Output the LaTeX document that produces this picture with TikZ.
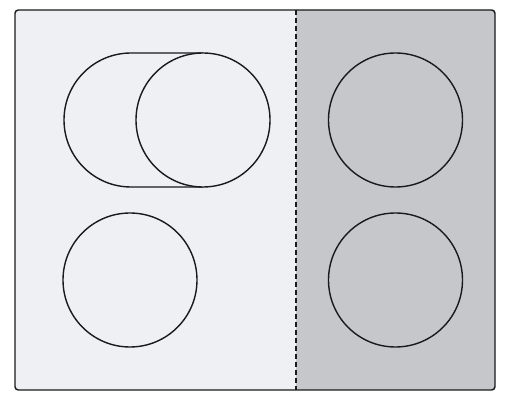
\documentclass[tikz,border=0pt]{standalone}
\usepackage{tikz}
\usetikzlibrary{positioning}
\usetikzlibrary{calc}

\definecolor{lightside}{HTML}{EFF0F4}
\definecolor{darkside}{HTML}{C5C7CA}
\definecolor{edgeline}{HTML}{1A1A1A}

\tikzset{
  ball/.style={draw=edgeline, line width=1.05pt, circle, minimum size=100.5pt, inner sep=0pt},
  divider/.style={draw=edgeline, line width=1.1pt, dash pattern=on 3.8pt off 2.2pt}
}

\begin{document}
\begin{tikzpicture}[x=0.75pt, y=-0.75pt]

	\def\r{67};

	\useasboundingbox (0,0) rectangle (507,409);

	% the two sides of the box
	\fill[lightside] (15,10) rectangle (296,390);
	\fill[darkside] (296,10) [rounded corners=2.5pt] -- (495,10) -- (495,390) [sharp corners] -- (296,390) -- cycle;
	\draw[edgeline, line width=1.1pt, rounded corners=2.5pt] (15,10) rectangle (495,390);
	\coordinate (divtop) at (296,10);
	\coordinate (divbot) at (296,390);
	\draw[divider] (divtop) -- (divbot);

	% moving ball with its trail
	\coordinate (trailtop) at (203,120-\r);
	\coordinate (trailbot) at (203,120+\r);
	\draw[edgeline, line width=1.05pt, fill=lightside] (trailtop) -- (131,120-\r) arc[start angle=-90, end angle=-270, radius=\r] -- (trailbot);
	\node[ball, fill=lightside] (moving) at (203,120) {};

	% resting balls
	\node[ball, fill=lightside] (resting) at (130,280) {};
	\foreach \y/\name in {120/upper, 280/lower} {
		\node[ball, fill=darkside] (\name) at (395.5,\y) {};
	}

\end{tikzpicture}
\end{document}
